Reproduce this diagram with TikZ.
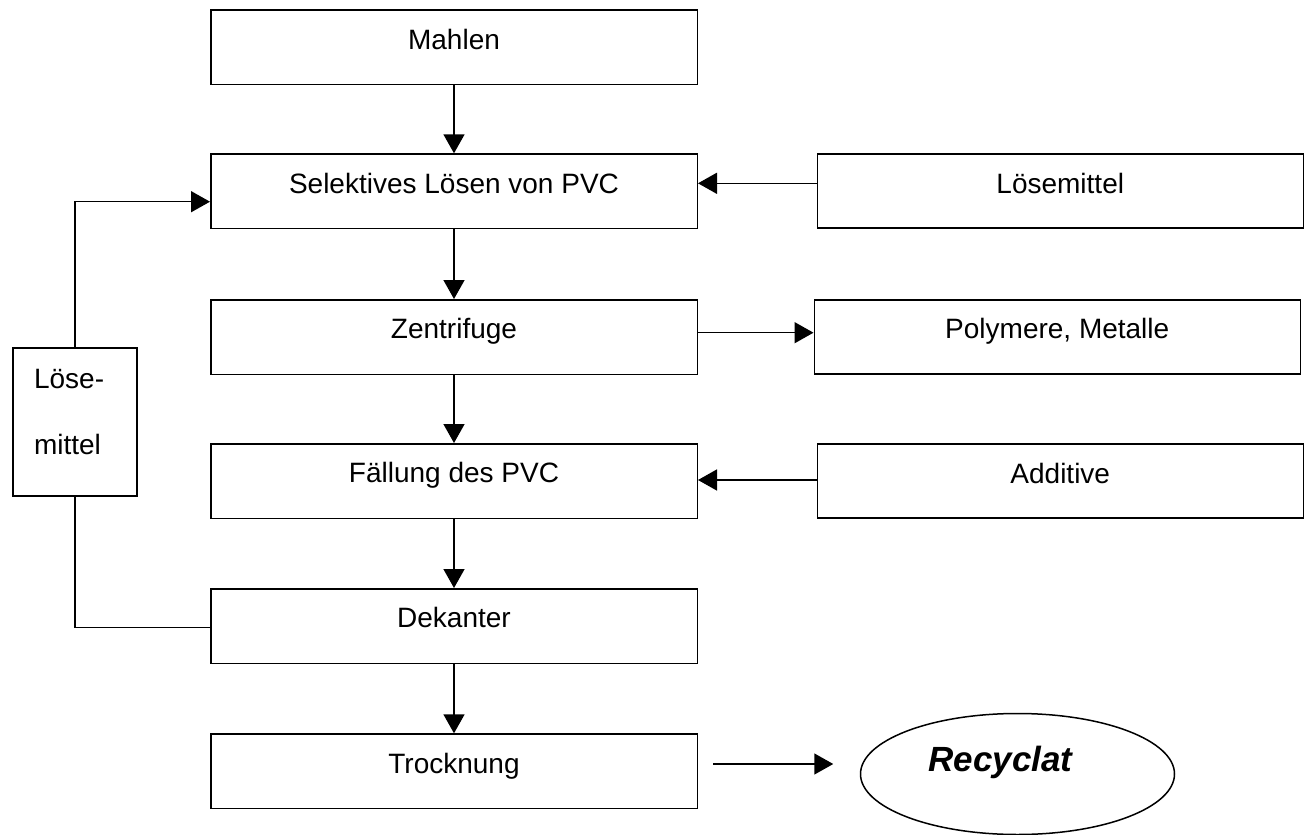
\documentclass[tikz,border=0pt]{standalone}
\usepackage{fontspec}
\setmainfont{Liberation Sans}
\usetikzlibrary{arrows.meta,shapes.geometric}
\newcommand\procfont{\fontsize{28}{34}\selectfont}
\newcommand\recfont{\fontsize{35}{40}\selectfont\bfseries\itshape}
\begin{document}
\begin{tikzpicture}[x=1pt,y=-1pt,
  line width=1.5pt,
  proc/.style={draw, inner sep=0pt, minimum width=486.5pt, minimum height=74.5pt,
    text height=39pt, text depth=35.5pt, anchor=north west, font=\procfont},
  side/.style={proc, minimum width=486pt, minimum height=74pt, text depth=35pt},
  txt/.style={inner sep=0pt, anchor=base west, font=\procfont},
  flow/.style={-{Triangle[length=19pt,width=21pt]}},
  feed/.style={line join=miter}]
\useasboundingbox (0,0) rectangle (1310,835);

% main process chain
\node[proc] (mahlen) at (210,9.3)   {Mahlen};
\node[proc] (sel)    at (210,153.3) {Selektives Lösen von PVC};
\node[proc] (zen)    at (210,299)   {Zentrifuge};
\node[proc] (fal)    at (210,443)   {Fällung des PVC};
\node[proc] (dek)    at (210,588)   {Dekanter};
\node[proc] (tro)    at (210,733.3) {Trocknung};

% inputs and outputs on the right
\node[side] (lsm) at (816.5,153.3) {Lösemittel};
\node[side] (pol) at (813.5,299)   {Polymere, Metalle};
\node[side] (add) at (816.5,443.3) {Additive};

% product (label sits a little left of the ellipse centre)
\node[draw, ellipse, inner sep=0pt, minimum width=314pt, minimum height=121pt,
      text height=20pt, text depth=24.6pt, font=\recfont] (rec) at (1017.5,774)
      {Recyclat\kern34pt};

% solvent recycle box
\node[draw, inner sep=0pt, minimum width=124pt, minimum height=147.7pt, anchor=north west]
  (lbox) at (12,347.3) {};
\node[txt] (lt1) at ([xshift=21.3pt,yshift=-41pt]lbox.north west) {Löse-};
\node[txt] (lt2) at ([xshift=21.3pt,yshift=-106.7pt]lbox.north west) {mittel};

% vertical flow
\draw[flow] (mahlen) -- (sel);
\draw[flow] (sel) -- (zen);
\draw[flow] (zen) -- (fal);
\draw[flow] (fal) -- (dek);
\draw[flow] (dek) -- (tro);

% side streams
\draw[flow] (lsm.west |- 0,183.3) -- (sel.east |- 0,183.3);
\draw[flow] (zen.east |- 0,332.7) -- (pol.west |- 0,332.7);
\draw[flow] (add.west |- 0,480) -- (fal.east |- 0,480);
\draw[flow, shorten <=15.2pt, shorten >=26.5pt] (tro.east |- 0,764) -- (rec.west |- 0,764);

% solvent return loop
\draw[feed] (dek.west |- 0,627.3) -| (lbox.south);
\draw[flow] (lbox.north) |- (sel.west |- 0,201.7);
\end{tikzpicture}
\end{document}
